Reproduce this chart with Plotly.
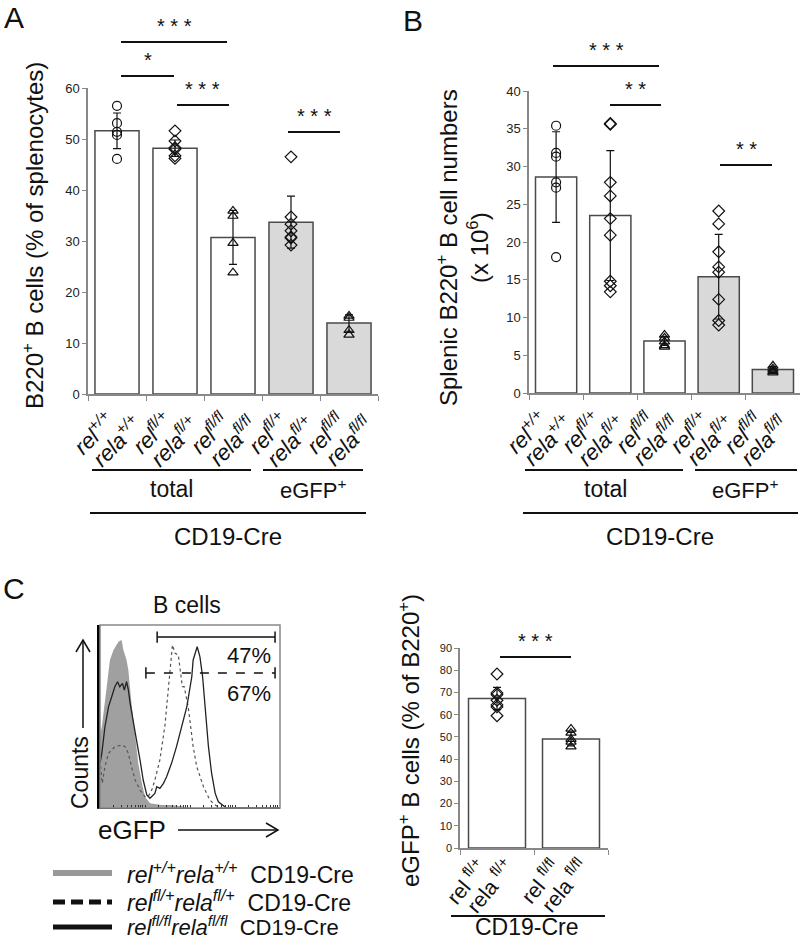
import plotly.graph_objects as go

W, H = 800, 940
def PX(x): return x / W
def PY(y): return 1 - y / H

FONT = "Arial, Liberation Sans, sans-serif"

# ---------------- data ----------------
cats_AB = ["g1", "g2", "g3", "g4", "g5"]
lab1_AB = ["rel<sup>+/+</sup>", "rel<sup>fl/+</sup>", "rel<sup>fl/fl</sup>", "rel<sup>fl/+</sup>", "rel<sup>fl/fl</sup>"]
lab2_AB = ["rela<sup>+/+</sup>", "rela<sup>fl/+</sup>", "rela<sup>fl/fl</sup>", "rela<sup>fl/+</sup>", "rela<sup>fl/fl</sup>"]
bar_colors_AB = ["white", "white", "white", "#d9d9d9", "#d9d9d9"]
symbols_AB = ["circle-open", "diamond-open", "triangle-up-open", "diamond-open", "triangle-up-open"]

A_mean = [51.6, 48.2, 30.7, 33.7, 13.9]
A_sd = [3.5, 1.6, 5.3, 5.1, 1.6]
A_pts = [
    [56.5, 53.1, 51.4, 50.8, 46.1],
    [51.6, 49.6, 48.3, 48.0, 46.7, 46.2],
    [35.9, 34.9, 29.6, 23.8],
    [46.5, 34.7, 33.3, 32.0, 30.8, 30.6, 29.2],
    [15.3, 14.9, 12.5, 11.6],
]

B_mean = [28.6, 23.5, 6.9, 15.4, 3.1]
B_sd = [6.0, 8.6, 0.6, 5.6, 0.4]
B_pts = [
    [35.4, 31.8, 31.3, 27.9, 27.2, 18.0],
    [35.6, 35.7, 27.9, 26.1, 23.1, 20.9, 14.8, 14.2, 13.4],
    [7.7, 7.3, 6.8, 6.3, 6.1],
    [24.1, 22.4, 18.7, 16.7, 16.0, 12.4, 9.6, 9.0],
    [3.6, 3.2, 2.9, 2.7],
]

cats_C = ["h1", "h2"]
lab1_C = ["rel <sup>fl/+</sup>", "rel <sup>fl/fl</sup>"]
lab2_C = ["rela <sup>fl/+</sup>", "rela <sup>fl/fl</sup>"]
symbols_C = ["diamond-open", "triangle-up-open"]
C_mean = [67.3, 49.0]
C_sd = [5.0, 3.0]
C_pts = [
    [78.3, 69.8, 69.0, 66.5, 64.4, 63.5, 59.5],
    [53.6, 51.8, 47.8, 45.6, 49.0],
]

# histogram (x = log10 eGFP, y = relative counts)
wt_x = [0.0, 0.04, 0.15, 0.22, 0.30, 0.41, 0.48, 0.52, 0.59, 0.63, 0.70, 0.78, 0.85, 0.93, 1.00, 1.11, 1.37, 1.59, 1.81, 2.0, 4.0]
wt_y = [40.0, 44.4, 66.3, 80.9, 86.3, 90.9, 91.8, 86.3, 80.9, 75.4, 57.2, 39.0, 24.4, 13.5, 6.2, 2.6, 1.6, 1.6, 1.0, 0.0, 0.0]

flfl_x = [0.0, 0.04, 0.11, 0.19, 0.26, 0.33, 0.39, 0.44, 0.50, 0.54, 0.59, 0.63, 0.67, 0.74, 0.81, 0.89, 0.96, 1.04, 1.11, 1.22, 1.26, 1.33, 1.41, 1.48, 1.59, 1.70, 1.81, 1.93, 2.04, 2.07, 2.16, 2.22, 2.28, 2.33, 2.41, 2.48, 2.56, 2.63, 2.74, 2.81, 4.0]
flfl_y = [24.4, 29.9, 44.4, 55.4, 60.8, 66.3, 69.0, 66.3, 68.1, 64.5, 69.0, 64.5, 57.2, 48.1, 37.2, 26.2, 15.3, 7.1, 5.3, 8.0, 11.6, 10.7, 13.5, 17.1, 24.4, 33.5, 44.4, 55.4, 71.7, 80.9, 88.1, 82.7, 71.7, 55.4, 33.5, 19.0, 8.0, 3.4, 1.6, 0.0, 0.0]

flp_x = [0.0, 0.05, 0.11, 0.19, 0.33, 0.48, 0.56, 0.63, 0.70, 0.78, 0.89, 1.00, 1.07, 1.15, 1.22, 1.33, 1.44, 1.53, 1.59, 1.61, 1.67, 1.74, 1.83, 1.87, 1.96, 2.07, 2.15, 2.30, 2.44, 2.56, 2.67, 4.0]
flp_y = [26.2, 13.5, 22.6, 29.9, 33.5, 34.4, 33.5, 29.9, 22.6, 15.3, 9.8, 6.2, 6.2, 9.8, 15.3, 26.2, 44.4, 66.3, 84.5, 89.1, 84.5, 83.6, 66.3, 66.3, 55.4, 33.5, 22.6, 11.6, 4.4, 1.6, 0.0, 0.0]

gate_solid = [1.27, 3.89, 93.4]
gate_dash = [1.02, 3.89, 73.8]
gate_labels = ["47%", "67%"]

# ---------------- figure ----------------
fig = go.Figure()

def add_bar_panel(cats, means, sds, colors, pts, symbols, xa, ya, width):
    fig.add_trace(go.Bar(
        x=cats, y=means, width=width,
        marker=dict(color=colors, line=dict(color="#4a4a4a", width=1.5)),
        error_y=dict(type="data", array=sds, color="#111", thickness=1.2, width=4),
        xaxis=xa, yaxis=ya, showlegend=False, hoverinfo="skip"))
    for c, p, s in zip(cats, pts, symbols):
        fig.add_trace(go.Scatter(
            x=[c] * len(p), y=p, mode="markers",
            marker=dict(symbol=s, size=9, color="#111", line=dict(width=1.2, color="#111")),
            xaxis=xa, yaxis=ya, showlegend=False, hoverinfo="skip"))

add_bar_panel(cats_AB, A_mean, A_sd, bar_colors_AB, A_pts, symbols_AB, "x", "y", 0.76)
add_bar_panel(cats_AB, B_mean, B_sd, bar_colors_AB, B_pts, symbols_AB, "x2", "y2", 0.76)
add_bar_panel(cats_C, C_mean, C_sd, ["white", "white"], C_pts, symbols_C, "x4", "y4", 0.77)

# histogram
fig.add_trace(go.Scatter(x=wt_x, y=wt_y, mode="lines", fill="tozeroy",
                         fillcolor="#a0a0a0", line=dict(width=0, color="#a0a0a0"),
                         xaxis="x3", yaxis="y3", showlegend=False, hoverinfo="skip"))
fig.add_trace(go.Scatter(x=flp_x, y=flp_y, mode="lines",
                         line=dict(width=1.2, color="#555", dash="dot"),
                         xaxis="x3", yaxis="y3", showlegend=False, hoverinfo="skip"))
fig.add_trace(go.Scatter(x=flfl_x, y=flfl_y, mode="lines",
                         line=dict(width=1.3, color="#222"),
                         xaxis="x3", yaxis="y3", showlegend=False, hoverinfo="skip"))
for g, dash in ((gate_solid, "solid"), (gate_dash, "dash")):
    fig.add_trace(go.Scatter(x=[g[0], g[1]], y=[g[2], g[2]], mode="lines+markers",
                             line=dict(width=1.5, color="#111", dash=dash),
                             marker=dict(symbol="line-ns-open", size=8, line=dict(width=1.5, color="#111")),
                             xaxis="x3", yaxis="y3", showlegend=False, hoverinfo="skip"))

minor_ticks = [d + lg for d in range(4) for lg in (0, 0.301, 0.477, 0.602, 0.699, 0.778, 0.845, 0.903, 0.954)] + [4]

common_y = dict(showgrid=False, zeroline=False, showline=True, linecolor="#888", linewidth=1.5,
                automargin=False, ticks="outside", ticklen=4, tickcolor="#888",
                tickfont=dict(size=13, color="#222", family=FONT))
common_x = dict(type="category", showgrid=False, zeroline=False, showline=True, linecolor="#888",
                automargin=False, linewidth=1.5, ticks="outside", ticklen=5, tickcolor="#888",
                tickson="boundaries", showticklabels=False)

fig.update_layout(
    width=W, height=H, margin=dict(l=0, r=0, t=0, b=0, autoexpand=False),
    paper_bgcolor="white", plot_bgcolor="white",
    font=dict(family=FONT, color="#111"),
    xaxis=dict(domain=[PX(88), PX(378)], anchor="y", range=[-0.5, 4.5], tickvals=cats_AB, **common_x),
    yaxis=dict(domain=[PY(394), PY(88)], anchor="x", range=[0, 60], dtick=10, **common_y),
    xaxis2=dict(domain=[PX(529), PX(800)], anchor="y2", range=[-0.5, 4.5], tickvals=cats_AB, **common_x),
    yaxis2=dict(domain=[PY(393), PY(91)], anchor="x2", range=[0, 40], dtick=5, **common_y),
    xaxis3=dict(domain=[PX(100), PX(280)], anchor="y3", range=[0, 4], showgrid=False, zeroline=False,
                automargin=False, showline=True, linecolor="#333", linewidth=1, ticks="inside", ticklen=3,
                tickcolor="#333", tickvals=minor_ticks, showticklabels=False),
    yaxis3=dict(domain=[PY(808), PY(625)], anchor="x3", range=[0, 100], showgrid=False, zeroline=False,
                automargin=False, showline=True, linecolor="#000", linewidth=2.5, showticklabels=False, ticks=""),
    xaxis4=dict(domain=[PX(460), PX(608)], anchor="y4", range=[-0.5, 1.5], tickvals=cats_C, **common_x),
    yaxis4=dict(domain=[PY(848), PY(648)], anchor="x4", range=[0, 90], dtick=10,
                **{**common_y, "tickfont": dict(size=11, color="#222", family=FONT)}),
)

shapes = []
ann = []

def hline(x0, x1, y, width=1.8, dash="solid", color="#111"):
    shapes.append(dict(type="line", xref="paper", yref="paper", x0=PX(x0), x1=PX(x1),
                       y0=PY(y), y1=PY(y), line=dict(color=color, width=width, dash=dash)))

def text(x, y, t, size=20, angle=0, xanchor="center", yanchor="middle", color="#111"):
    ann.append(dict(xref="paper", yref="paper", x=PX(x), y=PY(y), text=t, showarrow=False,
                    font=dict(size=size, family=FONT, color=color), textangle=angle,
                    xanchor=xanchor, yanchor=yanchor))

# category labels (rotated, two lines each) anchored to the category axes
def cat_labels(xref, cats, l1, l2, y1, y2, dx1, dx2, size, angle, italic):
    for c, a, b in zip(cats, l1, l2):
        for t, yy, dx in ((a, y1, dx1), (b, y2, dx2)):
            ann.append(dict(xref=xref, yref="paper", x=c, y=PY(yy), xshift=dx,
                            text=f"<i>{t}</i>" if italic else t, showarrow=False,
                            textangle=angle, xanchor="center", yanchor="middle",
                            font=dict(size=size, family=FONT, color="#111")))

cat_labels("x", cats_AB, lab1_AB, lab2_AB, 433, 441, -24, -1, 22, -45, True)
cat_labels("x2", cats_AB, lab1_AB, lab2_AB, 432, 440, -30, -9, 22, -45, True)
cat_labels("x4", cats_C, lab1_C, lab2_C, 881, 885, -31, -7, 21, -50, False)

# panel letters
text(14, 18, "A", size=30)
text(413, 20, "B", size=30)
text(14, 588, "C", size=30)

# axis titles
text(33, 236, "B220<sup>+</sup> B cells (% of splenocytes)", size=24, angle=-90)
text(463, 248, "Splenic B220<sup>+</sup> B cell numbers<br>(x 10<sup>6</sup>)", size=24, angle=-90)
text(409, 741, "eGFP<sup>+</sup> B cells (% of B220<sup>+</sup>)", size=24, angle=-90)

# significance
def sig(x0, x1, y, stars):
    hline(x0, x1, y)
    ann.append(dict(xref="paper", yref="paper", x=PX((x0 + x1) / 2), y=PY(y - 3), text=stars,
                    showarrow=False, font=dict(size=20, family=FONT, color="#111"),
                    xanchor="center", yanchor="bottom"))

sig(121, 227, 42, "* * *")
sig(121, 174, 76, "*")
sig(177, 229, 105, "* * *")
sig(288, 340, 132, "* * *")
sig(553, 659, 66, "* * *")
sig(610, 661, 105, "* *")
sig(720, 772, 165, "* *")
sig(500, 571, 657, "* * *")

# group lines A
hline(92, 251, 470, width=1.8)
hline(263, 363, 470, width=1.8)
hline(90, 366, 513, width=2)
text(171, 489, "total", size=23)
text(313, 489, "eGFP<sup>+</sup>", size=22)
text(228, 536, "CD19-Cre", size=24)
# group lines B
hline(525, 683, 470, width=1.8)
hline(695, 797, 470, width=1.8)
hline(523, 798, 513, width=2)
text(605, 489, "total", size=23)
text(745, 489, "eGFP<sup>+</sup>", size=22)
text(660, 536, "CD19-Cre", size=24)
# group line C bar
hline(451, 605, 916, width=2)
text(527, 927, "CD19-Cre", size=23)

# histogram decorations
shapes.append(dict(type="rect", xref="paper", yref="paper", x0=PX(100), x1=PX(280), y0=PY(808), y1=PY(625),
                   line=dict(color="#888", width=1.5)))
text(187, 605, "B cells", size=23)
ann.append(dict(xref="x3", yref="y3", x=gate_solid[1] - 0.05, y=(gate_solid[2] + gate_dash[2]) / 2,
                text=gate_labels[0], showarrow=False, xanchor="right", yanchor="middle",
                font=dict(size=22, family=FONT, color="#111")))
ann.append(dict(xref="x3", yref="y3", x=gate_dash[1] - 0.05, y=gate_dash[2] - 11,
                text=gate_labels[1], showarrow=False, xanchor="right", yanchor="middle",
                font=dict(size=22, family=FONT, color="#111")))
text(80, 773, "Counts", size=23, angle=-90)
text(96, 830, "eGFP", size=26, xanchor="left")
# arrows
shapes.append(dict(type="line", xref="paper", yref="paper", x0=PX(83), x1=PX(83), y0=PY(728), y1=PY(640),
                   line=dict(color="#111", width=1.5)))
shapes.append(dict(type="path", xref="paper", yref="paper",
                   path=f"M {PX(76)},{PY(652)} L {PX(83)},{PY(640)} L {PX(90)},{PY(652)}",
                   line=dict(color="#111", width=1.5)))
shapes.append(dict(type="line", xref="paper", yref="paper", x0=PX(178), x1=PX(278), y0=PY(830), y1=PY(830),
                   line=dict(color="#111", width=1.5)))
shapes.append(dict(type="path", xref="paper", yref="paper",
                   path=f"M {PX(266)},{PY(823)} L {PX(278)},{PY(830)} L {PX(266)},{PY(837)}",
                   line=dict(color="#111", width=1.5)))

# legend
hline(53, 112, 873, width=6, color="#999")
hline(53, 112, 902, width=5, dash="12px,6px", color="#111")
hline(53, 112, 927, width=5, color="#111")
text(125, 873, "<i>rel<sup>+/+</sup>rela<sup>+/+</sup></i>  CD19-Cre", size=23, xanchor="left")
text(125, 901, "<i>rel<sup>fl/+</sup>rela<sup>fl/+</sup></i>  CD19-Cre", size=23, xanchor="left")
text(125, 926, "<i>rel<sup>fl/fl</sup>rela<sup>fl/fl</sup></i>  CD19-Cre", size=22, xanchor="left")

fig.update_layout(shapes=shapes, annotations=ann)
fig.write_html("out.html", config={"displayModeBar": False},
               post_script="document.body.style.margin='0';document.body.style.overflow='hidden';")
